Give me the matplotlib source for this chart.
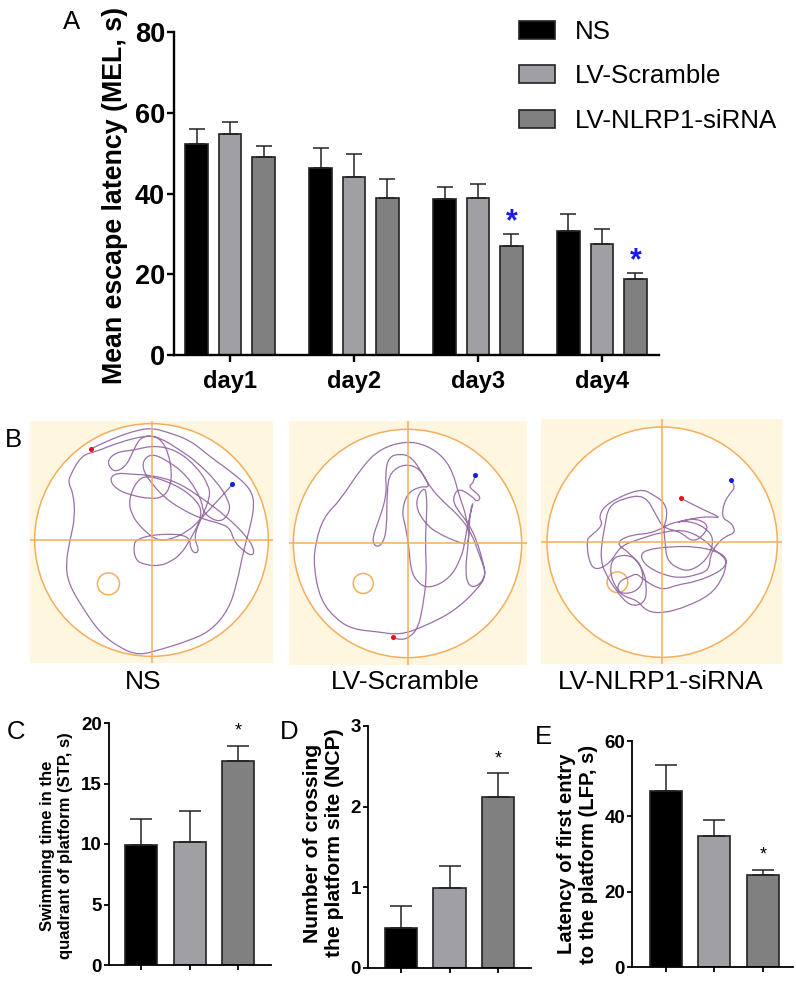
#!/usr/bin/env python3
import matplotlib
matplotlib.use("Agg")
import matplotlib.pyplot as plt
from matplotlib.patches import Circle, Patch, PathPatch, Rectangle
from matplotlib.path import Path

W, H = 796, 982

groups = ["NS", "LV-Scramble", "LV-NLRP1-siRNA"]
colors = ["#000000", "#A0A0A4", "#808080"]
edge = "#222222"

days = ["day1", "day2", "day3", "day4"]
mel_mean = [[52.2, 46.2, 38.6, 30.8], [54.8, 44.2, 39.0, 27.6], [49.1, 38.8, 26.9, 18.8]]
mel_top = [[55.9, 51.2, 41.5, 35.0], [57.7, 49.8, 42.3, 31.3], [51.7, 43.5, 30.0, 20.4]]

stp_mean = [9.95, 10.15, 16.9]
stp_top = [12.1, 12.75, 18.1]
ncp_mean = [0.5, 0.99, 2.12]
ncp_top = [0.77, 1.27, 2.42]
lfp_mean = [46.6, 34.9, 24.5]
lfp_top = [53.7, 39.1, 25.7]

# tracks, pixel coords of each crop
track_ns = [(636,253),(545,355),(500,397),(445,420),(415,420),(395,410),(360,380),(335,345),(325,300),(350,240),(385,225),
            (470,255),(530,300),(548,345),(510,420),(480,465),(450,485),(420,498),(375,495),(345,480),(340,435),(350,418),(395,405),
            (450,402),(490,405),(510,420),(510,445),(525,462),(537,450),(520,410),(545,350),(570,290),(565,255),
            (530,200),(470,150),(400,135),(340,150),(290,155),(262,180),(270,205),(290,215),(320,195),(340,150),
            (360,112),(395,105),(425,120),(445,160),(455,215),(450,260),(430,290),(395,297),(330,285),(285,265),
            (268,235),(290,218),(330,222),(395,225),(470,245),(540,290),(620,350),(680,410),(703,450),(695,470),
            (660,445),(640,420),(630,385),(600,370),(540,355),(480,325),(430,290),(395,250),(370,215),(368,180),
            (395,160),(440,180),(500,225),(545,300),(548,340),(600,370),(630,335),(625,300),(590,245),(530,185),
            (480,150),(420,112),(380,105),(300,125),(225,155),(185,165),(150,225),(145,250),(160,280),(165,350),
            (150,420),(137,490),(145,550),(185,620),(240,700),(300,745),(355,767),(420,750),(500,725),(570,695),
            (625,630),(650,550),(670,450),(690,380),(703,310),(690,265),(640,220),(570,170),(510,120),(440,95),
            (395,83),(350,90),(290,110),(235,135),(213,146)]
track_sc = [(584,224),(583,245),(565,258),(585,275),(603,292),(590,305),(578,290),(540,265),(522,280),(520,310),(545,345),
            (565,370),(590,420),(610,490),(617,525),(595,558),(565,560),(555,510),(565,430),(570,330),(582,300),
            (565,360),(555,420),(545,470),(510,535),(445,567),(410,545),(392,510),(385,430),(375,375),(365,335),
            (380,280),(420,258),(450,262),(430,225),(395,170),(360,160),(325,170),(315,220),(320,280),(300,350),
            (275,415),(285,440),(305,435),(320,390),(320,270),(330,215),(375,190),(420,205),(450,262),(490,305),
            (540,350),(575,400),(600,470),(620,525),(590,570),(520,635),(430,680),(360,705),(290,695),(220,688),
            (170,660),(120,600),(100,500),(105,430),(130,350),(180,300),(245,200),(300,145),(378,122),(440,135),
            (490,170),(520,220),(535,280),(560,350),(570,435),(530,425),(475,400),(440,375),(410,330),(410,290),
            (435,258),(440,300),(440,330),(435,430),(440,530),(428,620),(415,680),(390,712),(360,720),(339,712)]
track_si = [(602,241),(617,260),(600,280),(580,310),(575,355),(600,367),(612,385),(612,400),(585,410),(560,432),(540,465),
            (537,510),(500,525),(450,535),(400,525),(350,500),(330,470),(345,450),(420,440),(500,440),(560,455),
            (585,470),(590,490),(570,515),(500,545),(440,555),(395,572),(340,540),(320,520),(300,530),(265,545),
            (262,580),(310,580),(340,550),(335,500),(310,470),(270,465),(245,480),(240,520),(255,560),(280,590),
            (320,600),(350,635),(400,640),(470,620),(540,585),(575,540),(590,490),(580,470),(545,445),(530,425),
            (470,390),(400,395),(320,420),(270,440),(240,490),(195,513),(175,480),(170,420),(180,410),(220,375),
            (205,350),(230,310),(330,265),(370,285),(405,310),(412,350),(400,380),(405,430),(410,480),(440,505),
            (480,515),(530,480),(550,430),(540,395),(490,365),(430,365),(370,400),(300,405),(255,430),(300,460),
            (340,510),(350,560),(345,610),(300,620),(260,575),(225,520),(212,480),(215,430),(225,375),(235,320),
            (280,295),(345,285),(380,350),(400,385),(450,395),(490,430),(530,395),(530,370),(490,355),(430,370),
            (490,355),(540,350),(575,355),(520,330),(470,305),(451,295)]

plt.rcParams["font.family"] = ["Liberation Sans", "DejaVu Sans"]
fig = plt.figure(figsize=(W / 100, H / 100), dpi=100)


def px_axes(left, top, right, bottom):
    return fig.add_axes([left / W, 1 - bottom / H, (right - left) / W, (bottom - top) / H])


def fig_text(x, y, s, **kw):
    fig.text(x / W, 1 - y / H, s, ha="center", va="center", **kw)


def style_axes(ax, tick_size, lw, ticklen):
    ax.spines["top"].set_visible(False)
    ax.spines["right"].set_visible(False)
    ax.spines["left"].set_linewidth(lw)
    ax.spines["bottom"].set_linewidth(lw)
    ax.tick_params(width=lw, length=ticklen, labelsize=tick_size, pad=1.5)
    for lab in ax.get_yticklabels() + ax.get_xticklabels():
        lab.set_fontweight("bold")


def small_bars(box, xlim, ymax, yticks, means, tops):
    ax = px_axes(*box)
    xs = [1, 2, 3]
    ax.bar(xs, means, width=0.66, color=colors, edgecolor=edge, linewidth=1.2)
    for x, m, t in zip(xs, means, tops):
        ax.errorbar(x, m, yerr=[[0], [t - m]], color=edge, elinewidth=1.1, capsize=8, capthick=1.1)
    ax.set_xlim(*xlim)
    ax.set_ylim(0, ymax)
    ax.set_xticks(xs)
    ax.set_xticklabels([])
    ax.set_yticks(yticks)
    style_axes(ax, 13.5, 1.3, 3.5)
    return ax


def smooth_track(track):
    # quadratic segments through the midpoints, so the line has no hard corners
    verts = [track[0]]
    codes = [Path.MOVETO]
    for p, q in zip(track[1:-1], track[2:]):
        verts += [p, ((p[0] + q[0]) / 2, (p[1] + q[1]) / 2)]
        codes += [Path.CURVE3, Path.CURVE3]
    verts.append(track[-1])
    codes.append(Path.LINETO)
    return Path(verts, codes)


# panel A
ax = px_axes(174, 32, 659, 355)
offsets = [-0.27, 0, 0.27]
for g in range(3):
    xs = [d + offsets[g] for d in range(4)]
    ax.bar(xs, mel_mean[g], width=0.18, color=colors[g], edgecolor=edge, linewidth=1.2)
    for x, m, t in zip(xs, mel_mean[g], mel_top[g]):
        ax.errorbar(x, m, yerr=[[0], [t - m]], color=edge, elinewidth=1.1, capsize=5.5, capthick=1.1)
ax.set_xlim(-0.452, 3.46)
ax.set_ylim(0, 80)
ax.set_xticks(range(4))
ax.set_xticklabels(days)
ax.set_yticks([0, 20, 40, 60, 80])
style_axes(ax, 19.5, 1.7, 5)
ax.tick_params(axis="x", labelsize=17, pad=5.5)
fig_text(115, 195, "Mean escape latency (MEL, s)", rotation=90, fontsize=19.3, fontweight="bold")
ax.text(2.27, 33, "*", color="#1A1AEE", fontsize=22, fontweight="bold", ha="center", va="center")
ax.text(3.27, 23.2, "*", color="#1A1AEE", fontsize=22, fontweight="bold", ha="center", va="center")
handles = [Patch(facecolor=c, edgecolor=edge, linewidth=1.2) for c in colors]
fig.legend(handles, groups, loc="upper left", bbox_to_anchor=(511 / W, 1 - 12 / H), frameon=False,
           fontsize=18.6, handlelength=1.4, handleheight=0.7, handletextpad=0.78, labelspacing=0.8,
           borderpad=0.3, borderaxespad=0)

# panel B
panels = [
    ((30, 421, 273, 663), (30, 758, 62, 790), (394, 420, 350), (265, 552, 33), track_ns),
    ((289, 421, 527, 665), (26, 741, 62, 795), (382, 430, 343), (249, 550, 30), track_sc),
    ((541, 419, 782, 664), (33, 755, 58, 792), (396, 427, 345), (262, 547, 31), track_si),
]
for box, bg, arena, plat, track in panels:
    a = px_axes(*box)
    a.set_xlim(bg[0], bg[1])
    a.set_ylim(bg[3], bg[2])
    a.axis("off")
    a.add_patch(Rectangle((bg[0], bg[2]), bg[1] - bg[0], bg[3] - bg[2], facecolor="#FFF6DF", edgecolor="none"))
    a.add_patch(Circle(arena[:2], arena[2], facecolor="white", edgecolor="#F4AE5C", linewidth=1.1))
    a.add_patch(Circle(plat[:2], plat[2], facecolor="none", edgecolor="#F4AE5C", linewidth=1.1))
    a.plot([bg[0], bg[1]], [arena[1], arena[1]], color="#F4AE5C", linewidth=1.1)
    a.plot([arena[0], arena[0]], [bg[2], bg[3]], color="#F4AE5C", linewidth=1.1)
    a.add_patch(PathPatch(smooth_track(track), facecolor="none", edgecolor="#9A70A8", linewidth=0.9))
    a.plot(track[0][0], track[0][1], "o", color="#1020E0", markersize=2.6)
    a.plot(track[-1][0], track[-1][1], "o", color="#E81020", markersize=2.6)

fig_text(143, 682, "NS", fontsize=19)
fig_text(405, 682, "LV-Scramble", fontsize=19)
fig_text(661, 682, "LV-NLRP1-siRNA", fontsize=19)

# panels C, D, E
ax_c = small_bars((109, 723, 271, 965), (0.34, 3.68), 20, [0, 5, 10, 15, 20], stp_mean, stp_top)
fig_text(56.5, 846, "Swimming time in the\nquadrant of platform (STP, s)", rotation=90, fontsize=12,
         fontweight="bold", linespacing=1.3)
ax_c.text(3, 18.6, "*", fontsize=13, ha="center", va="bottom")
ax_d = small_bars((368, 726, 531, 968), (0.32, 3.68), 3, [0, 1, 2, 3], ncp_mean, ncp_top)
fig_text(323, 843, "Number of crossing\nthe platform site (NCP)", rotation=90, fontsize=15.2,
         fontweight="bold", linespacing=1.2)
ax_d.text(3, 2.49, "*", fontsize=13, ha="center", va="bottom")
ax_e = small_bars((632, 741, 793, 967), (0.31, 3.62), 60, [0, 20, 40, 60], lfp_mean, lfp_top)
fig_text(577, 854, "Latency of first entry\nto the platform (LFP, s)", rotation=90, fontsize=14.6,
         fontweight="bold", linespacing=1.2)
ax_e.text(3, 27.5, "*", fontsize=13, ha="center", va="bottom")

for x, y, s in [(72, 22, "A"), (13, 440, "B"), (15.5, 732, "C"), (289, 732, "D"), (543.5, 737, "E")]:
    fig_text(x, y, s, fontsize=18.5)

fig.savefig("out.png", dpi=100)
